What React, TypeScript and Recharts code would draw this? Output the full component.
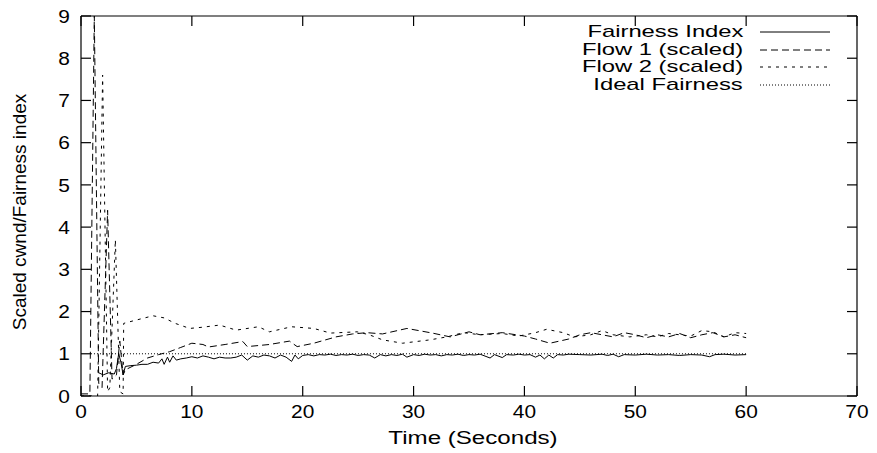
import React from "react";
import { LineChart, Line, XAxis, YAxis, Label, ReferenceLine } from "recharts";

const xTicks = [0, 10, 20, 30, 40, 50, 60, 70];
const yTicks = [0, 1, 2, 3, 4, 5, 6, 7, 8, 9];

const seriesNames = ["Fairness Index", "Flow 1 (scaled)", "Flow 2 (scaled)", "Ideal Fairness"];

// [time, value] pairs
const fairnessIndex = [
  [1.6, 0.55], [2, 0.5], [2.5, 0.55], [3, 0.52], [3.2, 0.65], [3.4, 1.0], [3.6, 0.8], [3.8, 0.5],
  [4, 0.7], [4.5, 0.72], [5, 0.73], [5.5, 0.75], [6, 0.75], [6.5, 0.8], [7, 0.78], [7.3, 0.88],
  [7.5, 0.75], [7.8, 0.92], [8, 0.8], [8.3, 0.95], [8.6, 0.85], [9, 0.88], [9.5, 0.9], [10, 0.93],
  [10.5, 0.9], [11, 0.95], [11.5, 0.92], [12, 0.88], [12.5, 0.92], [13, 0.9], [13.5, 0.9], [14, 0.92],
  [14.5, 0.97], [15, 0.85], [15.5, 0.95], [16, 0.92], [16.5, 0.97], [17, 0.95], [17.5, 0.9], [18, 0.97],
  [18.5, 0.92], [19, 0.82], [19.3, 0.97], [19.6, 0.88], [20, 0.96], [20.5, 0.98], [21, 0.95], [21.5, 0.98],
  [22, 0.97], [22.5, 0.99], [23, 0.96], [23.5, 0.98], [24, 0.97], [24.5, 0.99], [25, 0.96], [25.5, 0.98],
  [26, 0.97], [26.5, 0.9], [27, 0.98], [27.5, 0.95], [28, 0.98], [28.5, 0.96], [29, 0.99], [29.4, 0.92],
  [30, 0.98], [30.5, 0.96], [31, 0.99], [31.5, 0.97], [32, 0.98], [32.5, 0.95], [33, 0.98], [33.5, 0.97],
  [34, 0.99], [34.5, 0.96], [35, 0.98], [35.5, 0.97], [36, 0.99], [36.9, 0.9], [37.3, 0.98], [38, 0.91],
  [38.4, 0.98], [39, 0.97], [39.5, 0.99], [40, 0.97], [40.5, 0.98], [41, 0.92], [41.4, 0.97], [41.8, 0.88],
  [42.2, 0.97], [42.6, 0.9], [43, 0.98], [43.5, 0.97], [44, 0.99], [45, 0.98], [46, 0.97], [47, 0.99],
  [47.5, 0.96], [48, 0.99], [48.5, 0.93], [49, 0.98], [50, 0.97], [51, 0.99], [52, 0.97], [53, 0.98],
  [54, 0.96], [55, 0.98], [56, 0.97], [56.7, 0.93], [57.2, 0.98], [58, 0.99], [59, 0.97], [60, 0.98],
];

const flow1 = [
  [0, 0.05], [0.8, 0.05], [1.2, 9.0], [1.6, 0.3], [1.9, 0.2], [2.4, 4.4], [2.8, 0.4], [3.2, 0.5],
  [3.5, 1.3], [3.8, 0.5], [4, 0.62], [5, 0.75], [6, 0.9], [7, 0.98], [8, 1.05], [9, 1.15],
  [10, 1.25], [11, 1.22], [11.5, 1.16], [13, 1.22], [14.6, 1.29], [15, 1.17], [17, 1.22], [18.8, 1.3],
  [19.5, 1.17], [21, 1.25], [23, 1.4], [24.5, 1.47], [25.8, 1.5], [27.2, 1.47], [29.4, 1.6], [31.7, 1.49],
  [33.3, 1.4], [35, 1.52], [36, 1.45], [38, 1.5], [40, 1.42], [41, 1.35], [42.3, 1.25], [44, 1.35],
  [45, 1.45], [46, 1.5], [47, 1.45], [48, 1.4], [49, 1.5], [50, 1.45], [51, 1.38], [52, 1.45],
  [53, 1.4], [54, 1.48], [55, 1.38], [56, 1.45], [57, 1.5], [58, 1.4], [59, 1.45], [60, 1.38],
];

const flow2 = [
  [0, 0], [1.5, 0], [1.95, 7.6], [2.4, 0.1], [2.6, 0.2], [3.1, 3.7], [3.5, 0.1], [3.8, 0.05],
  [3.85, 1.72], [5, 1.8], [6.5, 1.9], [7.5, 1.85], [8.5, 1.72], [9.8, 1.6], [11, 1.63], [12.5, 1.68],
  [14, 1.56], [16, 1.64], [17, 1.52], [19, 1.64], [21, 1.6], [22.5, 1.49], [24.9, 1.52], [26, 1.45],
  [27.2, 1.33], [29, 1.25], [31.5, 1.33], [33, 1.4], [34.5, 1.5], [36, 1.45], [38, 1.48], [39.5, 1.42],
  [41, 1.5], [42, 1.58], [43.5, 1.5], [44.5, 1.4], [46, 1.45], [47, 1.55], [48, 1.45], [49.5, 1.4],
  [51, 1.45], [52, 1.4], [53, 1.48], [55, 1.42], [56, 1.55], [57, 1.52], [58, 1.4], [59, 1.5],
  [60, 1.48],
];

const idealFairness = [[0.9, 1], [60, 1]];

const toPoints = (rows: number[][]) => rows.map(([t, v]) => ({ t, v }));

const FONT = "'Liberation Sans', Arial, Helvetica, sans-serif";
const FS = 19;
const SX_TICK = 1.1;
const SX = 1.27;
const KEY_FS = 17;
const KEY_SX = 1.4;

// inward tick length (10px) in data units: plot is 776px wide for 70 s, 380px tall for 9 units
const TICK_X = (10 * 70) / 776;
const TICK_Y = (10 * 9) / 380;

const dashes = [undefined, "7 4", "3 5", "1 2"];

const LeftTick = (props: any) => {
  const { x, y, payload } = props;
  return (
    <text transform={`translate(${x - 11},${y}) scale(${SX_TICK},1)`} dy="0.35em" textAnchor="end"
      fontFamily={FONT} fontSize={FS} fill="#000">{payload.value}</text>
  );
};

const BottomTick = (props: any) => {
  const { x, y, payload } = props;
  return (
    <text transform={`translate(${x},${y + 22}) scale(${SX_TICK},1)`} textAnchor="middle"
      fontFamily={FONT} fontSize={FS} fill="#000">{payload.value}</text>
  );
};

const XTitle = (props: any) => {
  const { viewBox } = props;
  const cx = viewBox.x + viewBox.width / 2 + 4;
  return (
    <text transform={`translate(${cx},${viewBox.y + 48}) scale(${SX},1)`} textAnchor="middle"
      fontFamily={FONT} fontSize={FS} fill="#000">Time (Seconds)</text>
  );
};

const YTitle = (props: any) => {
  const { viewBox } = props;
  const cy = viewBox.y + viewBox.height / 2 + 6;
  return (
    <text transform={`translate(${26},${cy}) rotate(-90)`} textAnchor="middle"
      fontFamily={FONT} fontSize={FS} fill="#000">Scaled cwnd/Fairness index</text>
  );
};

const KeyBox = () => (
  <div style={{ position: "absolute", left: 0, top: 0, width: 877, height: 453, pointerEvents: "none" }}>
    {seriesNames.map((name, i) => (
      <div key={name} style={{ position: "absolute", top: 32 + i * 17.5, left: 0, width: 877, height: 0 }}>
        <span style={{
          position: "absolute", right: 877 - 743, top: -9, fontFamily: FONT, fontSize: KEY_FS,
          lineHeight: "18px", whiteSpace: "nowrap", transform: `scaleX(${KEY_SX})`, transformOrigin: "right center",
        }}>{name}</span>
        <svg style={{ position: "absolute", left: 760, top: -2 }} width={72} height={4}>
          <line x1={0} y1={2} x2={70} y2={2} stroke="#000" strokeWidth={1} strokeDasharray={dashes[i]} />
        </svg>
      </div>
    ))}
  </div>
);

const axisStroke = { stroke: "#000", strokeWidth: 1.2 };

export default function App() {
  const lines = [fairnessIndex, flow1, flow2, idealFairness];
  return (
    <div style={{ position: "absolute", left: 0, top: 0, width: 877, height: 453, background: "#fff" }}>
      <LineChart width={877} height={453} margin={{ top: 15, right: 19, bottom: 0, left: 0 }}>
        <XAxis xAxisId="b" dataKey="t" type="number" domain={[0, 70]} ticks={xTicks} interval={0}
          height={57} tickSize={0} tickMargin={0} tickLine={false} tick={BottomTick}
          axisLine={axisStroke} allowDataOverflow>
          <Label content={XTitle} />
        </XAxis>
        <XAxis xAxisId="t" orientation="top" dataKey="t" type="number" domain={[0, 70]} ticks={xTicks}
          interval={0} height={1} tickSize={0} tick={false} tickLine={false}
          axisLine={axisStroke} allowDataOverflow />
        <YAxis yAxisId="l" type="number" domain={[0, 9]} ticks={yTicks} interval={0} width={81}
          tickSize={0} tickMargin={0} tickLine={false} tick={LeftTick} axisLine={axisStroke}
          allowDataOverflow>
          <Label content={YTitle} />
        </YAxis>
        <YAxis yAxisId="r" orientation="right" type="number" domain={[0, 9]} ticks={yTicks} interval={0}
          width={1} tickSize={0} tick={false} tickLine={false}
          axisLine={axisStroke} allowDataOverflow />
        {xTicks.map((t) => (
          <ReferenceLine key={`xb${t}`} xAxisId="b" yAxisId="l" ifOverflow="visible"
            segment={[{ x: t, y: 0 }, { x: t, y: TICK_Y }]} stroke="#000" strokeWidth={1.2} />
        ))}
        {xTicks.map((t) => (
          <ReferenceLine key={`xt${t}`} xAxisId="b" yAxisId="l" ifOverflow="visible"
            segment={[{ x: t, y: 9 }, { x: t, y: 9 - TICK_Y }]} stroke="#000" strokeWidth={1.2} />
        ))}
        {yTicks.map((v) => (
          <ReferenceLine key={`yl${v}`} xAxisId="b" yAxisId="l" ifOverflow="visible"
            segment={[{ x: 0, y: v }, { x: TICK_X, y: v }]} stroke="#000" strokeWidth={1.2} />
        ))}
        {yTicks.map((v) => (
          <ReferenceLine key={`yr${v}`} xAxisId="b" yAxisId="l" ifOverflow="visible"
            segment={[{ x: 70, y: v }, { x: 70 - TICK_X, y: v }]} stroke="#000" strokeWidth={1.2} />
        ))}
        {lines.map((rows, i) => (
          <Line key={seriesNames[i]} xAxisId="b" yAxisId="l" data={toPoints(rows)} dataKey="v"
            type="linear" stroke="#000" strokeWidth={1} strokeDasharray={dashes[i]} dot={false}
            activeDot={false} isAnimationActive={false} name={seriesNames[i]} />
        ))}
        <Line xAxisId="t" yAxisId="r" data={toPoints(idealFairness)} dataKey="v" type="linear"
          stroke="none" dot={false} activeDot={false} isAnimationActive={false} legendType="none" />
      </LineChart>
      <KeyBox />
    </div>
  );
}
